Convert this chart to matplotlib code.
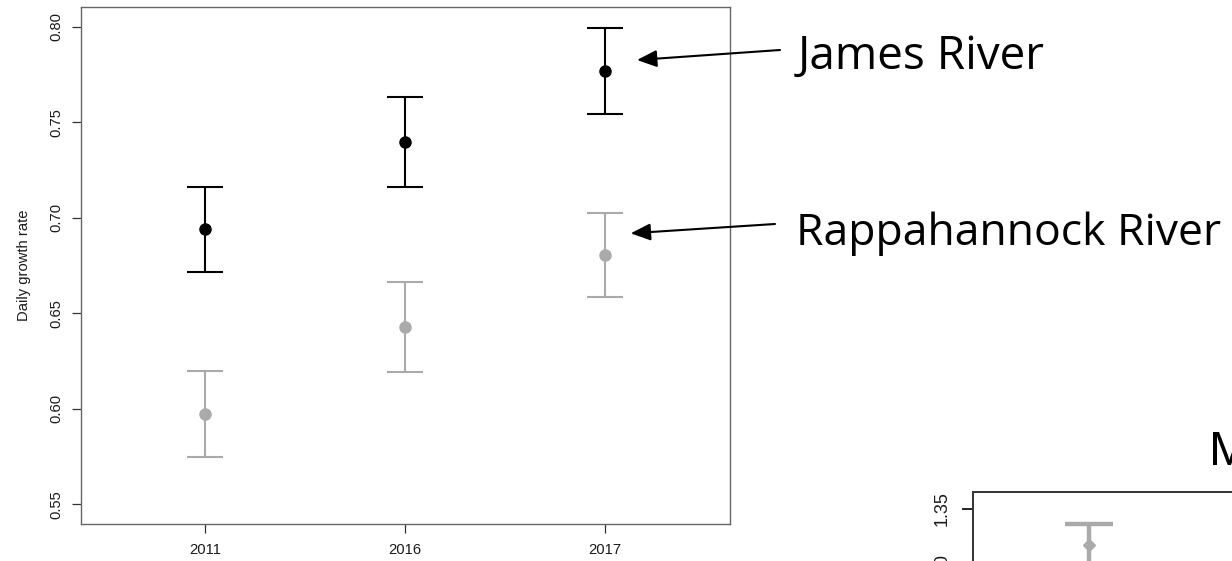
"""
plot.py
-------
Daily growth rate by year for the James and Rappahannock rivers,
mean with error bars, plus the edge of the next panel.
"""

import matplotlib.pyplot as plt

W, H = 1232, 561

years = ["2011", "2016", "2017"]
james_mean = [0.694, 0.7396, 0.777]
james_err = [0.0222, 0.0234, 0.0224]
rapp_mean = [0.5973, 0.643, 0.6805]
rapp_err = [0.0225, 0.0235, 0.0222]
y_ticks = [0.55, 0.60, 0.65, 0.70, 0.75, 0.80]

# second panel, only its top-left corner is in the picture
panel2_mean = [1.3207]
panel2_err = [0.0173]
panel2_ticks = [1.30, 1.35]

BLACK = "#000000"
GREY = "#aaaaaa"


def px_box(left, top, right, bottom):
    """Axes rectangle from image pixel edges (top-left origin)."""
    return [left / W, 1 - bottom / H, (right - left) / W, (bottom - top) / H]


plt.rcParams["font.family"] = ["Liberation Sans", "DejaVu Sans"]

fig = plt.figure(figsize=(W / 100, H / 100), dpi=100)

# 1. Main panel
ax = fig.add_axes(px_box(81, 7.3, 730, 524))
x = list(range(1, len(years) + 1))
for mean, err, col in [(james_mean, james_err, BLACK), (rapp_mean, rapp_err, GREY)]:
    ax.errorbar(x, mean, yerr=err, fmt="o", color=col, ms=8,
                elinewidth=1.5, capsize=18.3 * 0.72, capthick=1.5)

ax.set_xlim(0.38, 3.625)
ax.set_ylim(0.5397, 0.8102)
ax.set_xticks(x)
ax.set_xticklabels(years)
ax.set_yticks(y_ticks)
ax.set_yticklabels([f"{v:.2f}" for v in y_ticks], rotation=90, va="center")
ax.tick_params(axis="both", length=6.5, width=0.9, color="#333333",
               labelsize=10.6, labelcolor="#1a1a1a")
ax.tick_params(axis="y", pad=6.5)
ax.tick_params(axis="x", pad=7.5)
ax.set_ylabel("Daily growth rate", fontsize=10.6, color="#1a1a1a", labelpad=13)
for s in ax.spines.values():
    s.set_color("#666666")
    s.set_linewidth(1.0)

# 2. Arrows and river names
arrow = dict(arrowstyle="-|>,head_length=0.86,head_width=0.37", color=BLACK,
             lw=1.5, shrinkA=0, shrinkB=0, mutation_scale=14)
ax.annotate("", xy=(637, H - 60), xycoords="figure pixels",
            xytext=(780, H - 50), textcoords="figure pixels",
            arrowprops=arrow, annotation_clip=False)
ax.annotate("", xy=(630.7, H - 233.3), xycoords="figure pixels",
            xytext=(775, H - 224), textcoords="figure pixels",
            arrowprops=arrow, annotation_clip=False)
label_font = ["Open Sans", "DejaVu Sans"]
fig.text(798 / W, 1 - 69 / H, "James River", fontsize=33,
         family=label_font, va="baseline", ha="left")
fig.text(796 / W, 1 - 245 / H, "Rappahannock River", fontsize=32,
         family=label_font, va="baseline", ha="left")

# 3. Edge of the next panel
ax2 = fig.add_axes(px_box(972.7, 492.3, 1600, 900))
ax2.errorbar([1], panel2_mean, yerr=panel2_err, fmt="D", color=GREY, ms=6,
             elinewidth=3.2, capsize=24 * 0.72, capthick=3.2)
ax2.set_xlim(1 - 116.6 / 250, 1 - 116.6 / 250 + (1600 - 972.7) / 250)
ax2.set_ylim(1.35 - (900 - 509) / 1230, 1.35 + (509 - 492.3) / 1230)
ax2.set_xticks([])
ax2.set_yticks(panel2_ticks)
ax2.set_yticklabels([f"{v:.2f}" for v in panel2_ticks], rotation=90, va="center")
ax2.tick_params(axis="y", length=8, width=1.2, labelsize=13, pad=8,
                labelcolor="#1a1a1a")
for s in ax2.spines.values():
    s.set_color("#333333")
    s.set_linewidth(1.4)
fig.text(1209 / W, 1 - 465 / H, "M", fontsize=35, va="baseline", ha="left")

plt.savefig("out.png", dpi=100)
